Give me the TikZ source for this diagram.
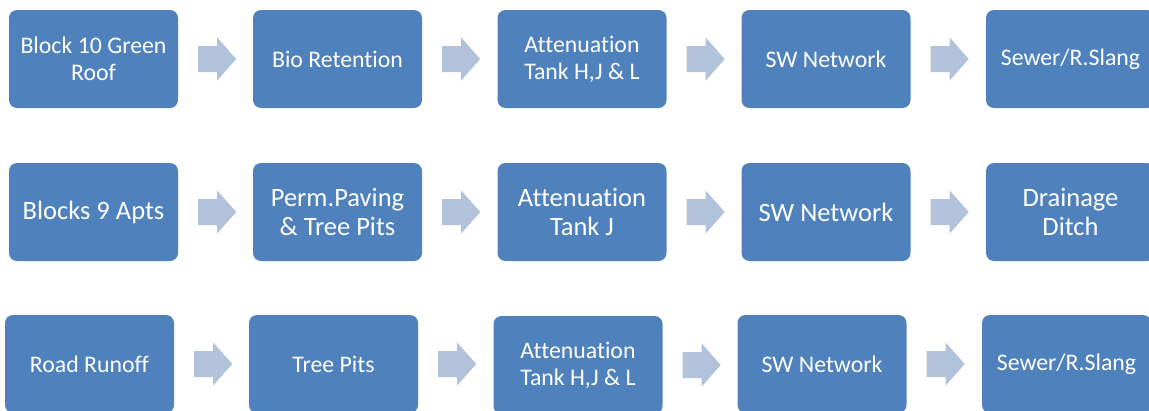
\documentclass[tikz,border=0pt]{standalone}
\usepackage{fontspec}
\setmainfont{Carlito}[Ligatures={NoCommon}]
\usetikzlibrary{calc}
\definecolor{boxblue}{HTML}{4F81BD}
\definecolor{arrowblue}{HTML}{B3C2DB}
\tikzset{
  flowbox/.style={fill=boxblue, rounded corners=8pt, minimum width=169pt, minimum height=98pt,
    inner sep=0pt, text=white, align=center},
  smalltext/.style={font=\fontsize{23.8}{27}\selectfont},
  bigtext/.style={font=\fontsize{26.5}{29.5}\selectfont},
  flowarrow/.style={fill=arrowblue}
}
\newcommand{\flowarrow}[2]{%
  \fill[flowarrow] ($(#1.east)+(20,-13)$) -- ++(19,0) -- ++(0,-8.5) -- ++(19,21.5)
    -- ++(-19,21.5) -- ++(0,-8.5) -- ++(-19,0) -- cycle;}
\begin{document}
\begin{tikzpicture}[x=1pt,y=-1pt]
\useasboundingbox (0,0) rectangle (1149,410);
\clip (0,0) rectangle (1149,410);
% row 1
\node[flowbox,smalltext] (a1) at (93.5,59) {Block 10 Green\\Roof};
\node[flowbox,smalltext] (a2) at (337.5,59) {Bio Retention};
\node[flowbox,smalltext] (a3) at (582,59) {Attenuation\\Tank H,J \& L};
\node[flowbox,smalltext] (a4) at (826,59) {SW Network};
\node[flowbox,smalltext] (a5) at (1070.5,59) {Sewer/R.Slang};
% row 2
\node[flowbox,bigtext] (b1) at (93.5,212) {Blocks 9 Apts};
\node[flowbox,bigtext] (b2) at (337.5,212) {Perm.Paving\\\& Tree Pits};
\node[flowbox,bigtext] (b3) at (582,212) {Attenuation\\Tank J};
\node[flowbox,bigtext] (b4) at (826,212) {SW Network};
\node[flowbox,bigtext] (b5) at (1070.5,212) {Drainage\\Ditch};
% row 3
\node[flowbox,smalltext] (c1) at (89.5,364) {Road Runoff};
\node[flowbox,smalltext] (c2) at (333.5,364) {Tree Pits};
\node[flowbox,smalltext] (c3) at (578,365) {Attenuation\\Tank H,J \& L};
\node[flowbox,smalltext] (c4) at (822,364) {SW Network};
\node[flowbox,smalltext] (c5) at (1066.5,364) {Sewer/R.Slang};
% arrows
\flowarrow{a1}{a2}\flowarrow{a2}{a3}\flowarrow{a3}{a4}\flowarrow{a4}{a5}
\flowarrow{b1}{b2}\flowarrow{b2}{b3}\flowarrow{b3}{b4}\flowarrow{b4}{b5}
\flowarrow{c1}{c2}\flowarrow{c2}{c3}\flowarrow{c3}{c4}\flowarrow{c4}{c5}
\end{tikzpicture}
\end{document}
